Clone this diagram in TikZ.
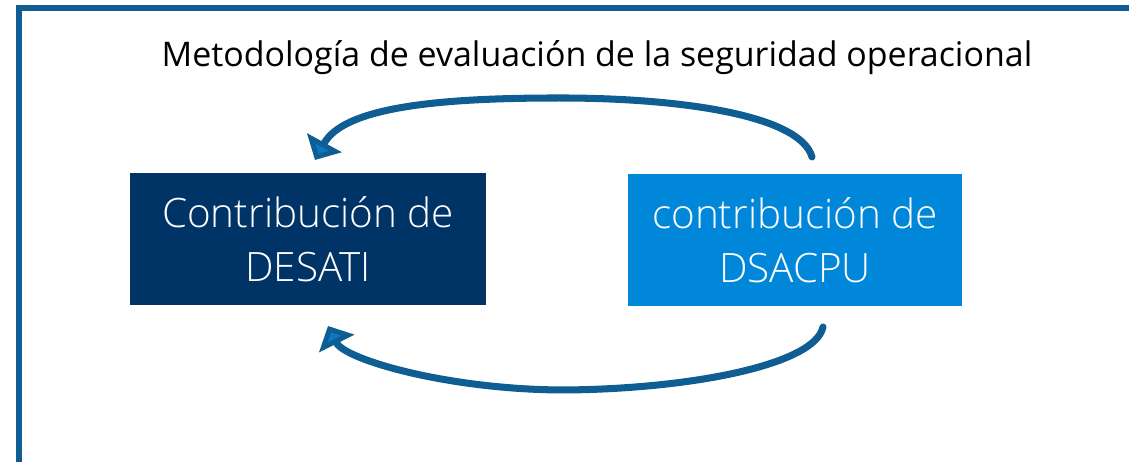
\documentclass[tikz,border=0pt]{standalone}
\usepackage{fontspec}
\setmainfont{Open Sans}
\IfFontExistsTF{Open Sans Light}
  {\newfontfamily\lightfont{Open Sans Light}}
  {\newfontfamily\lightfont{Open Sans}}
\usetikzlibrary{arrows.meta}

\definecolor{framecol}{HTML}{0E5E93}
\definecolor{arrowfill}{HTML}{0A78C4}
\definecolor{navybox}{HTML}{003366}
\definecolor{bluebox}{HTML}{0087D9}

\begin{document}
\begin{tikzpicture}[x=0.01cm, y=-0.01cm]
  \tikzstyle{frame} = [draw=framecol, line width=1.7pt]
  \tikzstyle{darkbox} = [rectangle, fill=navybox, text=white, align=center,
    minimum width=3.56cm, minimum height=1.32cm, inner sep=0pt,
    font=\lightfont\fontsize{11.5}{15.2}\selectfont]
  \tikzstyle{lightbox} = [darkbox, fill=bluebox, minimum width=3.34cm]
  \tikzstyle{looparrow} = [draw=framecol, line width=2pt, line cap=round,
    -{Triangle[length=5.6pt, width=11pt, line width=1.4pt, fill=arrowfill]}]

  \useasboundingbox (0,0) rectangle (1129,462);
  \draw[frame] (1160,8.5) -- (19,8.5) -- (19,480);

  \node[font=\fontsize{9.65}{12}\selectfont] (title) at (597,58)
    {Metodología de evaluación de la seguridad operacional};

  \node[darkbox] (desati) at (308,239) {Contribución de\\DESATI};
  \node[lightbox] (dsacpu) at (795,240) {contribución de\\DSACPU};

  \coordinate (top start) at (812,157);
  \coordinate (top mid) at (560,98);
  \coordinate (top end) at (315,160);
  \coordinate (bottom start) at (823,327);
  \coordinate (bottom mid) at (565,390);
  \coordinate (bottom end) at (328,326);

  \draw[looparrow] (top start) .. controls (800,115) and (680,98) .. (top mid)
    .. controls (450,98) and (345,105) .. (top end);
  \draw[looparrow] (bottom start) .. controls (815,365) and (690,389) .. (bottom mid)
    .. controls (450,390) and (345,360) .. (bottom end);
\end{tikzpicture}
\end{document}
